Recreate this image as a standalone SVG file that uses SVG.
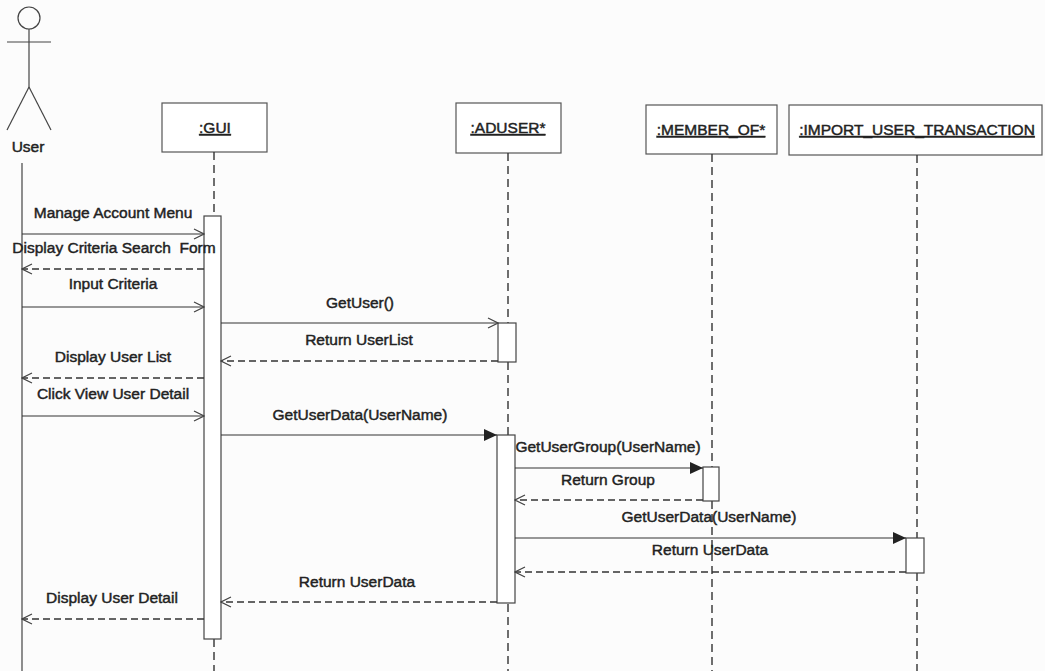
<svg xmlns="http://www.w3.org/2000/svg" width="1045" height="671" viewBox="0 0 1045 671">
<style>
text{font-family:"Liberation Sans",Arial,sans-serif;font-size:15.5px;fill:#222;stroke:#222;stroke-width:0.45}
.lbl{text-anchor:middle}
.hdr{text-anchor:middle;text-decoration:underline}
.box{fill:#fff;stroke:#555;stroke-width:1.2}
.act{fill:#fff;stroke:#444;stroke-width:1.2}
.life{stroke:#333;stroke-width:1.4;stroke-dasharray:8 5;fill:none}
.msg{stroke:#333;stroke-width:1.2;fill:none}
.ret{stroke:#333;stroke-width:1.5;fill:none;stroke-dasharray:7 4}
.actor{stroke:#444;stroke-width:1.2;fill:none}
</style>
<defs>
<marker id="open" viewBox="0 0 12 12" refX="11" refY="6" markerWidth="12" markerHeight="12" markerUnits="userSpaceOnUse" orient="auto">
<path d="M1,1 L11,6 L1,11" fill="none" stroke="#444" stroke-width="1.2"/>
</marker>
<marker id="filled" viewBox="0 0 14 12" refX="13" refY="6" markerWidth="14" markerHeight="12" markerUnits="userSpaceOnUse" orient="auto">
<path d="M0,0 L13,6 L0,12 Z" fill="#222"/>
</marker>
</defs>
<rect width="1045" height="671" fill="#fcfcfc"/>

<g id="user">
<circle class="actor" cx="29" cy="18" r="11"/>
<line class="actor" x1="29" y1="29" x2="29" y2="87"/>
<line class="actor" x1="7" y1="42" x2="51" y2="42"/>
<line class="actor" x1="29" y1="87" x2="7" y2="130"/>
<line class="actor" x1="29" y1="87" x2="51" y2="130"/>
<text x="28" y="152" class="lbl">User</text>
<line class="actor" x1="22" y1="163" x2="22" y2="671"/>
</g>

<g id="gui">
<rect class="box" x="162" y="103" width="105" height="49"/>
<text x="215" y="133" class="hdr">:GUI</text>
<line class="life" x1="214" y1="152" x2="214" y2="216"/>
<line class="life" x1="214" y1="639" x2="214" y2="671"/>
<rect class="act" x="204" y="216" width="17" height="423"/>
</g>

<g id="aduser">
<rect class="box" x="456" y="103" width="105" height="50"/>
<text x="508" y="133" class="hdr">:ADUSER*</text>
<line class="life" x1="508" y1="153" x2="508" y2="323"/>
<line class="life" x1="508" y1="362" x2="508" y2="435"/>
<line class="life" x1="508" y1="604" x2="508" y2="671"/>
<rect class="act" x="498" y="323" width="18" height="39"/>
<rect class="act" x="497" y="435" width="18" height="168"/>
</g>

<g id="member_of">
<rect class="box" x="646" y="105" width="131" height="49"/>
<text x="711" y="135" class="hdr">:MEMBER_OF*</text>
<line class="life" x1="712" y1="154" x2="712" y2="467"/>
<line class="life" x1="712" y1="501" x2="712" y2="671"/>
<rect class="act" x="703" y="467" width="16" height="34"/>
</g>

<g id="import_user_transaction">
<rect class="box" x="789" y="105" width="253" height="50"/>
<text x="917" y="135" class="hdr">:IMPORT_USER_TRANSACTION</text>
<line class="life" x1="917" y1="155" x2="917" y2="538"/>
<line class="life" x1="917" y1="573" x2="917" y2="671"/>
<rect class="act" x="906" y="538" width="18" height="35"/>
</g>

<g id="connectors">
<line class="msg" x1="22" y1="234" x2="204" y2="234" marker-end="url(#open)"/>
<text x="113" y="218" class="lbl">Manage Account Menu</text>

<line class="ret" x1="204" y1="269" x2="22" y2="269" marker-end="url(#open)"/>
<text x="114" y="253" class="lbl" xml:space="preserve">Display Criteria Search  Form</text>

<line class="msg" x1="22" y1="307" x2="204" y2="307" marker-end="url(#open)"/>
<text x="113" y="289" class="lbl">Input Criteria</text>

<line class="msg" x1="221" y1="323" x2="498" y2="323" marker-end="url(#open)"/>
<text x="360" y="308" class="lbl">GetUser()</text>

<line class="ret" x1="498" y1="361" x2="221" y2="361" marker-end="url(#open)"/>
<text x="359" y="345" class="lbl">Return UserList</text>

<line class="ret" x1="204" y1="378" x2="22" y2="378" marker-end="url(#open)"/>
<text x="113" y="362" class="lbl">Display User List</text>

<line class="msg" x1="22" y1="416" x2="204" y2="416" marker-end="url(#open)"/>
<text x="113" y="399" class="lbl">Click View User Detail</text>

<line class="msg" x1="221" y1="435" x2="497" y2="435" marker-end="url(#filled)"/>
<text x="360" y="420" class="lbl">GetUserData(UserName)</text>

<line class="msg" x1="515" y1="468" x2="703" y2="468" marker-end="url(#filled)"/>
<text x="608" y="452" class="lbl">GetUserGroup(UserName)</text>

<line class="ret" x1="703" y1="500" x2="515" y2="500" marker-end="url(#open)"/>
<text x="608" y="485" class="lbl">Return Group</text>

<line class="msg" x1="515" y1="538" x2="906" y2="538" marker-end="url(#filled)"/>
<text x="709" y="522" class="lbl">GetUserData(UserName)</text>

<line class="ret" x1="906" y1="572" x2="515" y2="572" marker-end="url(#open)"/>
<text x="710" y="555" class="lbl">Return UserData</text>

<line class="ret" x1="497" y1="602" x2="221" y2="602" marker-end="url(#open)"/>
<text x="357" y="587" class="lbl">Return UserData</text>

<line class="ret" x1="204" y1="619" x2="22" y2="619" marker-end="url(#open)"/>
<text x="112" y="603" class="lbl">Display User Detail</text>
</g>
</svg>
